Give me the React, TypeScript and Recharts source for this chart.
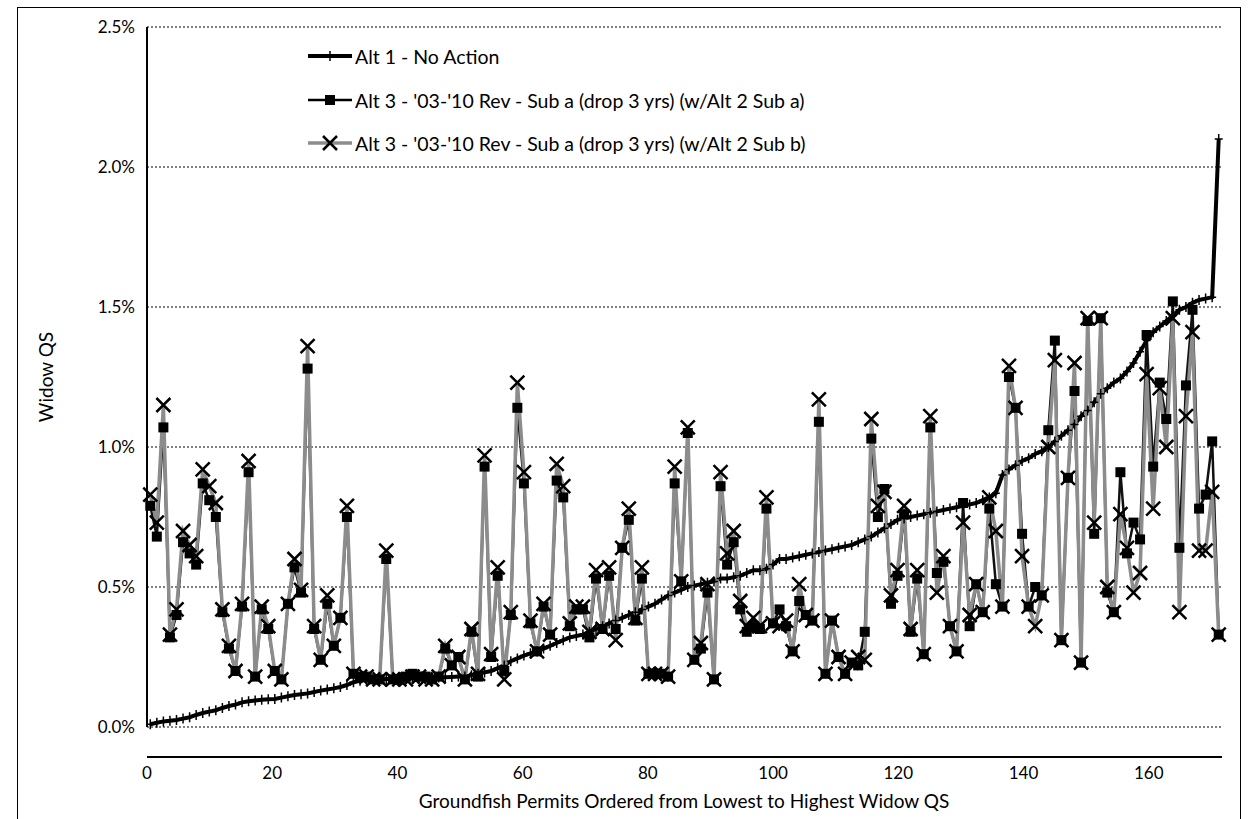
import { LineChart, Line, XAxis, YAxis, CartesianGrid } from 'recharts'

// Widow QS (%), permits ordered from lowest to highest
const alt1 = [
  0.01, 0.015, 0.02, 0.022, 0.025, 0.03, 0.035, 0.043, 0.05, 0.055,
  0.06, 0.068, 0.075, 0.08, 0.088, 0.092, 0.095, 0.097, 0.099, 0.1,
  0.105, 0.11, 0.114, 0.117, 0.12, 0.125, 0.13, 0.134, 0.138, 0.143,
  0.15, 0.16, 0.165, 0.168, 0.17, 0.17, 0.171, 0.171, 0.172, 0.172,
  0.173, 0.174, 0.175, 0.176, 0.177, 0.178, 0.179, 0.18, 0.18, 0.185,
  0.19, 0.195, 0.2, 0.21, 0.22, 0.235, 0.245, 0.255, 0.263, 0.27,
  0.28, 0.29, 0.3, 0.31, 0.32, 0.325, 0.33, 0.34, 0.35, 0.36,
  0.37, 0.38, 0.39, 0.4, 0.41, 0.42, 0.43, 0.44, 0.455, 0.47,
  0.48, 0.49, 0.5, 0.505, 0.51, 0.515, 0.52, 0.53, 0.53, 0.535,
  0.54, 0.55, 0.56, 0.56, 0.565, 0.58, 0.6, 0.6, 0.605, 0.61,
  0.615, 0.62, 0.625, 0.63, 0.635, 0.64, 0.645, 0.65, 0.66, 0.67,
  0.68, 0.695, 0.71, 0.725, 0.74, 0.745, 0.75, 0.755, 0.76, 0.765,
  0.77, 0.775, 0.78, 0.785, 0.79, 0.795, 0.8, 0.81, 0.82, 0.835,
  0.9, 0.92, 0.935, 0.95, 0.96, 0.975, 0.985, 1.0, 1.02, 1.04,
  1.06, 1.08, 1.11, 1.13, 1.16, 1.19, 1.21, 1.23, 1.245, 1.27,
  1.3, 1.34, 1.38, 1.41, 1.43, 1.45, 1.47, 1.49, 1.5, 1.515,
  1.525, 1.53, 1.535, 2.1,
]

const subA = [
  0.79, 0.68, 1.07, 0.32, 0.4, 0.66, 0.62, 0.58, 0.87, 0.81,
  0.75, 0.41, 0.28, 0.2, 0.43, 0.91, 0.18, 0.42, 0.35, 0.2,
  0.17, 0.44, 0.57, 0.48, 1.28, 0.35, 0.24, 0.44, 0.29, 0.39,
  0.75, 0.19, 0.18, 0.18, 0.17, 0.17, 0.6, 0.17, 0.17, 0.18,
  0.19, 0.18, 0.18, 0.17, 0.18, 0.28, 0.22, 0.25, 0.17, 0.34,
  0.18, 0.93, 0.25, 0.54, 0.2, 0.4, 1.14, 0.87, 0.37, 0.27,
  0.43, 0.33, 0.88, 0.82, 0.36, 0.42, 0.42, 0.32, 0.53, 0.35,
  0.54, 0.35, 0.64, 0.74, 0.38, 0.53, 0.19, 0.19, 0.19, 0.18,
  0.87, 0.52, 1.05, 0.24, 0.28, 0.48, 0.17, 0.86, 0.58, 0.66,
  0.42, 0.34, 0.36, 0.35, 0.78, 0.37, 0.42, 0.36, 0.27, 0.45,
  0.4, 0.38, 1.09, 0.19, 0.38, 0.25, 0.19, 0.23, 0.22, 0.34,
  1.03, 0.75, 0.85, 0.44, 0.54, 0.76, 0.34, 0.53, 0.26, 1.07,
  0.55, 0.59, 0.36, 0.27, 0.8, 0.36, 0.51, 0.41, 0.78, 0.51,
  0.43, 1.25, 1.14, 0.69, 0.43, 0.5, 0.47, 1.06, 1.38, 0.31,
  0.89, 1.2, 0.23, 1.45, 0.69, 1.46, 0.48, 0.41, 0.91, 0.62,
  0.73, 0.67, 1.4, 0.93, 1.23, 1.1, 1.52, 0.64, 1.22, 1.49,
  0.78, 0.83, 1.02, 0.33,
]

const subB = [
  0.83, 0.73, 1.15, 0.33, 0.42, 0.7, 0.65, 0.61, 0.92, 0.86,
  0.8, 0.42, 0.29, 0.2, 0.44, 0.95, 0.18, 0.43, 0.36, 0.2,
  0.17, 0.44, 0.6, 0.49, 1.36, 0.36, 0.24, 0.47, 0.29, 0.39,
  0.79, 0.19, 0.18, 0.18, 0.17, 0.17, 0.63, 0.17, 0.17, 0.17,
  0.18, 0.18, 0.17, 0.17, 0.18, 0.29, 0.22, 0.25, 0.17, 0.35,
  0.19, 0.97, 0.26, 0.57, 0.17, 0.41, 1.23, 0.91, 0.38, 0.27,
  0.44, 0.33, 0.94, 0.86, 0.37, 0.43, 0.43, 0.34, 0.56, 0.35,
  0.57, 0.31, 0.64, 0.78, 0.39, 0.57, 0.19, 0.19, 0.19, 0.18,
  0.93, 0.52, 1.07, 0.24, 0.3, 0.51, 0.17, 0.91, 0.62, 0.7,
  0.45, 0.36, 0.39, 0.36, 0.82, 0.37, 0.36, 0.38, 0.27, 0.51,
  0.4, 0.38, 1.17, 0.19, 0.38, 0.25, 0.19, 0.23, 0.25, 0.24,
  1.1, 0.79, 0.84, 0.47, 0.56, 0.79, 0.35, 0.56, 0.26, 1.11,
  0.48, 0.61, 0.36, 0.27, 0.73, 0.4, 0.51, 0.41, 0.82, 0.7,
  0.43, 1.29, 1.14, 0.61, 0.43, 0.36, 0.47, 1.0, 1.31, 0.31,
  0.89, 1.3, 0.23, 1.46, 0.73, 1.46, 0.5, 0.41, 0.76, 0.64,
  0.48, 0.55, 1.26, 0.78, 1.21, 1.0, 1.46, 0.41, 1.11, 1.41,
  0.63, 0.63, 0.84, 0.33,
]

const yTicks = [0, 0.5, 1.0, 1.5, 2.0, 2.5]
const xTicks = [0, 20, 40, 60, 80, 100, 120, 140, 160]

const legendNames = [
  'Alt 1 - No Action',
  "Alt 3 - '03-'10 Rev - Sub a (drop 3 yrs) (w/Alt 2 Sub a)",
  "Alt 3 - '03-'10 Rev - Sub a (drop 3 yrs) (w/Alt 2 Sub b)",
]

const data = alt1.map((v, i) => ({ idx: i, alt1: v, subA: subA[i], subB: subB[i] }))

const font = 'Lato, "Open Sans", sans-serif'

function PlusDot(props: any) {
  const { cx, cy, index } = props
  if (cx == null || cy == null) return null
  return (
    <path
      key={`p${index}`}
      d={`M${cx - 4},${cy}H${cx + 4}M${cx},${cy - 5}V${cy + 5}`}
      stroke="#000"
      strokeWidth={1.5}
      fill="none"
    />
  )
}

function SquareDot(props: any) {
  const { cx, cy, index } = props
  if (cx == null || cy == null) return null
  return <rect key={`s${index}`} x={cx - 5} y={cy - 5} width={10} height={10} fill="#000" />
}

function CrossDot(props: any) {
  const { cx, cy, index } = props
  if (cx == null || cy == null) return null
  return (
    <path
      key={`x${index}`}
      d={`M${cx - 7},${cy - 7}L${cx + 7},${cy + 7}M${cx - 7},${cy + 7}L${cx + 7},${cy - 7}`}
      stroke="#000"
      strokeWidth={2.5}
      fill="none"
    />
  )
}

function LegendRow({ y, kind, label }: { y: number; kind: number; label: string }) {
  return (
    <div style={{ position: 'absolute', left: 306, top: y - 12, display: 'flex', alignItems: 'center' }}>
      <svg width={48} height={24}>
        {kind === 0 && (
          <>
            <line x1={2} y1={12} x2={46} y2={12} stroke="#000" strokeWidth={4} />
            <path d="M20,12H28M24,7V17" stroke="#000" strokeWidth={1.5} />
          </>
        )}
        {kind === 1 && (
          <>
            <line x1={2} y1={12} x2={46} y2={12} stroke="#000" strokeWidth={2.5} />
            <rect x={19} y={7} width={10} height={10} fill="#000" />
          </>
        )}
        {kind === 2 && (
          <>
            <line x1={2} y1={12} x2={46} y2={12} stroke="#8c8c8c" strokeWidth={3.5} />
            <path d="M17,5L31,19M17,19L31,5" stroke="#000" strokeWidth={2.5} />
          </>
        )}
      </svg>
      <span style={{ fontFamily: font, fontSize: 19.5, marginLeft: 1, whiteSpace: 'nowrap' }}>{label}</span>
    </div>
  )
}

export default function App() {
  return (
    <div style={{ position: 'absolute', left: 0, top: 0, width: 1250, height: 819, background: '#fff', overflow: 'hidden' }}>
      <div
        style={{
          position: 'absolute',
          left: 17,
          top: 7,
          width: 1224,
          height: 830,
          border: '1.5px solid #000',
          boxSizing: 'border-box',
        }}
      />
      <LineChart
        width={1250}
        height={819}
        data={data}
        margin={{ top: 27, right: 28, bottom: 52, left: 87 }}
        style={{ position: 'absolute', left: 0, top: 0 }}
      >
        <CartesianGrid vertical={false} stroke="#000" strokeDasharray="2 2" strokeWidth={1} />
        <XAxis dataKey="idx" type="number" domain={[-0.5, 163.5]} hide />
        <XAxis
          xAxisId="ticks"
          dataKey="idx"
          type="number"
          scale="linear"
          domain={[0, 171.7]}
          allowDataOverflow
          ticks={xTicks}
          tickLine={false}
          axisLine={{ stroke: '#000', strokeWidth: 2 }}
          tick={{ fill: '#000', fontSize: 17, fontFamily: font }}
          tickMargin={4}
          height={40}
        />
        <YAxis
          domain={[0, 2.5]}
          ticks={yTicks}
          width={60}
          tickLine={false}
          axisLine={{ stroke: '#000', strokeWidth: 2 }}
          tick={{ fill: '#000', fontSize: 17, fontFamily: font }}
          tickFormatter={(v: number) => `${v.toFixed(1)}%`}
          tickMargin={6}
        />
        <Line
          dataKey="alt1"
          stroke="#000"
          strokeWidth={4}
          dot={<PlusDot />}
          activeDot={false}
          isAnimationActive={false}
        />
        <Line
          dataKey="subA"
          stroke="#111"
          strokeWidth={2.5}
          dot={<SquareDot />}
          activeDot={false}
          isAnimationActive={false}
        />
        <Line
          dataKey="subB"
          stroke="#8c8c8c"
          strokeWidth={3.5}
          dot={<CrossDot />}
          activeDot={false}
          isAnimationActive={false}
        />
      </LineChart>
      <LegendRow y={56} kind={0} label={legendNames[0]} />
      <LegendRow y={100} kind={1} label={legendNames[1]} />
      <LegendRow y={143} kind={2} label={legendNames[2]} />
      <div
        style={{
          position: 'absolute',
          left: 45,
          top: 377,
          transform: 'translate(-50%, -50%) rotate(-90deg)',
          fontFamily: font,
          fontSize: 19,
          whiteSpace: 'nowrap',
        }}
      >
        Widow QS
      </div>
      <div
        style={{
          position: 'absolute',
          left: 684,
          top: 800,
          transform: 'translate(-50%, -50%)',
          fontFamily: font,
          fontSize: 19,
          whiteSpace: 'nowrap',
        }}
      >
        Groundfish Permits Ordered from Lowest to Highest Widow QS
      </div>
    </div>
  )
}
